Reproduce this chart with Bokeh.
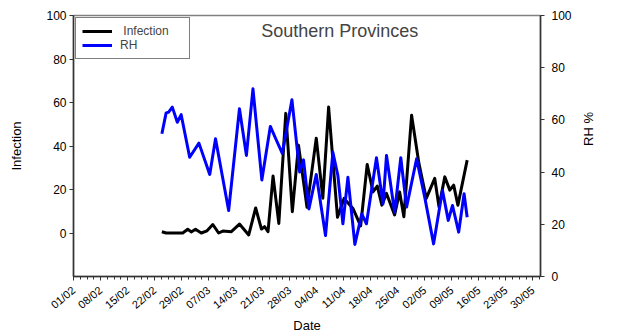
from datetime import datetime, timedelta
import math
from bokeh.plotting import figure
from bokeh.models import (Range1d, LinearAxis, FixedTicker, DatetimeTickFormatter,
                          Legend, LegendItem, Label)
from bokeh.embed import file_html
from bokeh.resources import INLINE

# ---- data (days counted from 01/02/2016) ----
infection_days = [22.9, 24.0, 28.3, 29.6, 30.5, 31.6, 33.1, 34.6, 36.1, 37.6, 38.7, 40.9,
                  43.0, 45.4, 47.2, 48.7, 49.5, 50.4, 51.7, 53.2, 55.0, 56.7, 58.3, 60.5,
                  62.9, 64.6, 66.1, 68.4, 70.1, 72.4, 74.4, 76.1, 77.6, 78.7, 79.9, 81.1,
                  83.2, 84.5, 85.6, 87.6, 89.5, 91.4, 93.6, 94.7, 96.2, 97.5, 98.5, 99.6, 102.0]
infection_values = [0.6, 0.0, 0.0, 1.7, 0.5, 1.7, 0.0, 1.0, 3.9, 0.0, 0.9, 0.6,
                    4.1, -0.9, 11.5, 1.8, 2.9, 0.6, 26.2, 4.4, 55.0, 9.8, 40.4, 11.8,
                    43.6, 16.0, 57.9, 7.2, 15.9, 11.3, 3.3, 31.5, 18.9, 21.6, 12.8, 18.2,
                    8.3, 18.9, 7.5, 54.1, 32.0, 15.9, 25.1, 12.1, 25.8, 19.7, 22.0, 12.8, 33.5]

rh_days = [22.9, 24.0, 24.6, 25.6, 26.9, 27.9, 30.1, 32.5, 35.3, 36.8, 40.2, 43.0,
           44.8, 46.5, 48.8, 51.0, 52.6, 54.1, 56.6, 58.6, 59.6, 61.0, 62.9, 65.3,
           67.2, 68.5, 69.8, 71.1, 72.9, 74.7, 75.9, 78.5, 80.2, 81.1, 83.2, 84.8,
           86.3, 88.9, 91.0, 93.3, 95.6, 97.1, 98.2, 99.8, 101.2, 102.0]
rh_values = [54.7, 62.7, 62.9, 64.9, 59.1, 62.0, 45.7, 51.1, 39.1, 52.8, 25.3, 64.3,
             46.4, 71.9, 37.0, 57.5, 52.1, 47.2, 67.7, 40.0, 44.7, 25.9, 39.1, 15.7,
             47.6, 38.7, 20.2, 38.0, 12.3, 24.0, 20.2, 45.5, 27.9, 46.4, 24.6, 45.5,
             26.6, 45.1, 30.4, 12.5, 33.0, 21.5, 27.2, 17.0, 31.7, 22.7]

left_ticks = [0, 20, 40, 60, 80, 100]
right_ticks = [0, 20, 40, 60, 80, 100]
week_count = 18          # weekly labels 01/02 ... 30/05
axis_days = 121          # 01/02 -> 01/06

start = datetime(2016, 2, 1)
epoch = datetime(1970, 1, 1)


def to_dt(d):
    return start + timedelta(days=d)


def to_ms(d):
    return (to_dt(d) - epoch).total_seconds() * 1000.0


FONT = "Liberation Sans"

p = figure(width=630, height=336, x_axis_type="datetime",
           output_backend="svg", toolbar_location=None,
           x_range=Range1d(to_dt(0), to_dt(axis_days)),
           y_range=Range1d(-20, 100),
           min_border_left=73, min_border_right=90, min_border_top=15, min_border_bottom=60)
p.extra_y_ranges = {"rh": Range1d(0, 100)}
p.grid.visible = False
p.outline_line_color = "#808080"
p.outline_line_width = 1.5
p.background_fill_color = "white"
p.border_fill_color = "white"

r_inf = p.line([to_dt(d) for d in infection_days], infection_values,
               line_color="black", line_width=3, line_join="round")
r_rh = p.line([to_dt(d) for d in rh_days], rh_values, y_range_name="rh",
              line_color="#0000FF", line_width=3, line_join="round")

# x axis
xa = p.xaxis[0]
xa.ticker = FixedTicker(ticks=[to_ms(7 * i) for i in range(week_count)],
                        minor_ticks=[to_ms(1.75 * i) for i in range(int(axis_days / 1.75) + 1)])
fmt = "%d/%m"
xa.formatter = DatetimeTickFormatter(days=fmt, months=fmt, hours=fmt, years=fmt,
                                     minutes=fmt, seconds=fmt, milliseconds=fmt,
                                     microseconds=fmt, minsec=fmt, hourmin=fmt, context=None)
xa.major_label_orientation = 0.7
xa.axis_label = "Date"

# left axis
ya = p.yaxis[0]
ya.ticker = FixedTicker(ticks=left_ticks, minor_ticks=[])
ya.axis_label = "Infection"

# right axis
ra = LinearAxis(y_range_name="rh", ticker=FixedTicker(ticks=right_ticks, minor_ticks=[]),
                axis_label="RH %")
try:
    ra.axis_label_orientation = math.pi / 2
except Exception:
    pass
p.add_layout(ra, "right")

for ax in (xa, ya, ra):
    ax.axis_line_color = "#333333"
    ax.axis_line_width = 1.5
    ax.major_tick_line_color = "#333333"
    ax.minor_tick_line_color = "#333333"
    ax.major_tick_in = 0
    ax.major_tick_out = 4
    ax.minor_tick_in = 0
    ax.minor_tick_out = 3
    ax.major_label_text_font = FONT
    ax.major_label_text_font_size = "12px"
    ax.major_label_text_color = "black"
    ax.axis_label_text_font = FONT
    ax.axis_label_text_font_size = "13px"
    ax.axis_label_text_font_style = "normal"
    ax.axis_label_text_color = "black"
xa.major_label_text_font_size = "11px"
xa.major_label_standoff = 8
xa.axis_label_standoff = 0
ya.major_label_standoff = 3
ya.axis_label_standoff = 19
ra.major_label_standoff = 7
ra.axis_label_standoff = 14

p.add_layout(Label(x=to_ms(69), y=93, text="Southern Provinces", text_font=FONT,
                   text_font_size="18px", text_align="center", text_baseline="middle"))

legend = Legend(items=[LegendItem(label=" Infection", renderers=[r_inf]),
                       LegendItem(label="RH", renderers=[r_rh])],
                location="top_left")
legend.label_text_font = FONT
legend.label_text_font_size = "12px"
legend.glyph_width = 30
legend.glyph_height = 12
legend.label_height = 12
legend.label_width = 63
legend.label_standoff = 8
legend.spacing = 0
legend.padding = 6
legend.margin = 2
legend.border_line_color = "black"
legend.border_line_width = 1
legend.background_fill_alpha = 1
p.add_layout(legend)

open("out.html", "w").write(file_html(p, INLINE))
